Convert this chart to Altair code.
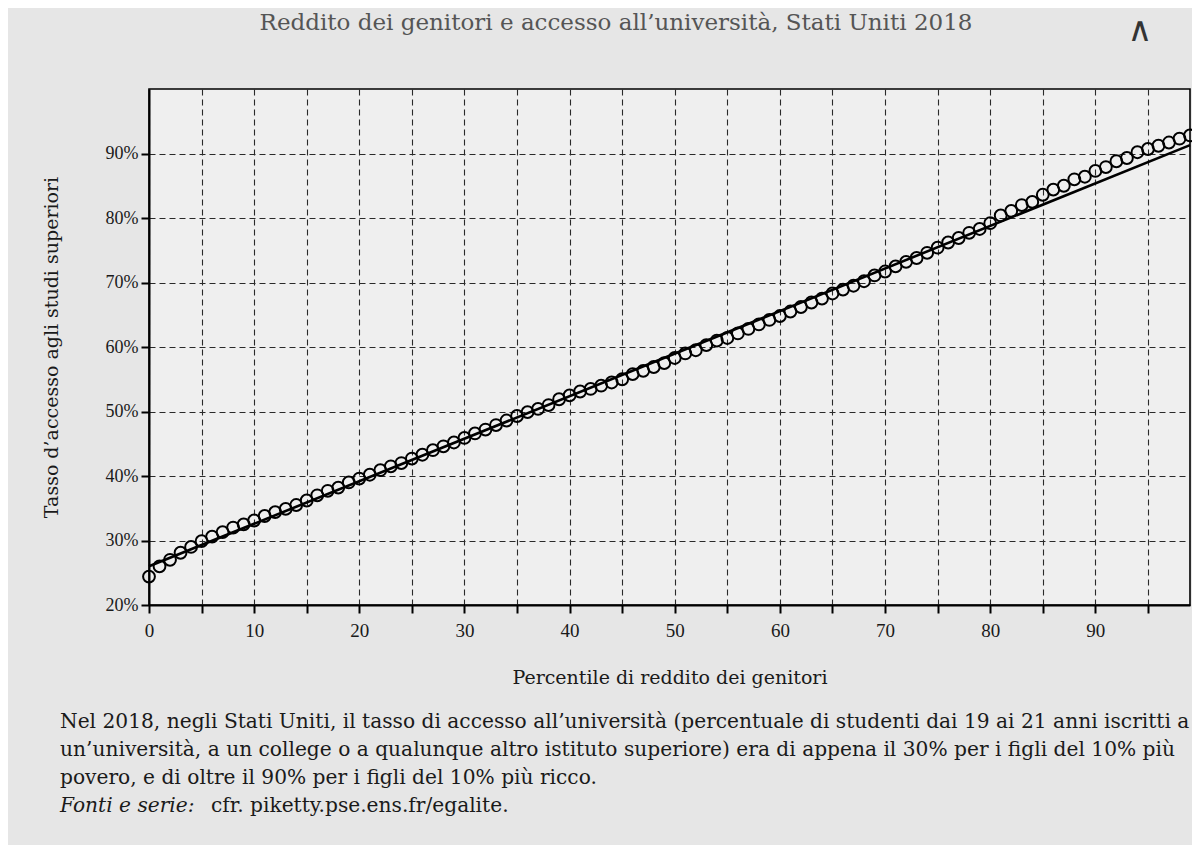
import altair as alt
import pandas as pd

# ---------------- data ----------------
percentile = list(range(0, 100))
access_rate = [
    24.4, 26.0, 27.0, 28.1, 29.0, 29.9, 30.6, 31.3, 32.0, 32.5,
    33.1, 33.8, 34.4, 34.9, 35.5, 36.2, 37.0, 37.7, 38.2, 39.0,
    39.6, 40.2, 40.9, 41.5, 42.0, 42.7, 43.3, 44.0, 44.6, 45.2,
    45.9, 46.6, 47.2, 47.9, 48.6, 49.3, 49.9, 50.4, 51.0, 51.9,
    52.5, 53.1, 53.5, 54.0, 54.5, 55.0, 55.8, 56.3, 56.9, 57.5,
    58.3, 59.0, 59.5, 60.3, 61.0, 61.4, 62.1, 62.8, 63.5, 64.2,
    64.8, 65.5, 66.2, 66.9, 67.5, 68.3, 68.9, 69.5, 70.2, 71.1,
    71.7, 72.5, 73.2, 73.8, 74.6, 75.4, 76.2, 76.9, 77.7, 78.3,
    79.2, 80.4, 81.1, 82.0, 82.5, 83.6, 84.4, 85.0, 86.0, 86.4,
    87.3, 87.9, 88.8, 89.3, 90.2, 90.7, 91.2, 91.7, 92.3, 92.8,
]
fit_x = [0, 99]
fit_y = [26.0, 91.3]

x_ticks = list(range(0, 100, 5))
y_ticks = list(range(20, 100, 10))

title_text = "Reddito dei genitori e accesso all’università, Stati Uniti 2018"
x_title = "Percentile di reddito dei genitori"
y_title = "Tasso d’accesso agli studi superiori"
caption_lines = [
    "Nel 2018, negli Stati Uniti, il tasso di accesso all’università (percentuale di studenti dai 19 ai 21 anni iscritti a",
    "un’università, a un college o a qualunque altro istituto superiore) era di appena il 30% per i figli del 10% più",
    "povero, e di oltre il 90% per i figli del 10% più ricco.",
]
source_label = "Fonti e serie:"
source_text = "cfr. piketty.pse.ens.fr/egalite."

FONT = "Liberation Serif"
WIDE = "DejaVu Serif"
INK = "#1a1a1a"

points_df = pd.DataFrame({"p": percentile, "rate": access_rate})
fit_df = pd.DataFrame({"p": fit_x, "rate": fit_y})

x_enc = alt.X(
    "p:Q",
    scale=alt.Scale(domain=[0, 99], nice=False, zero=False),
    axis=alt.Axis(
        values=x_ticks,
        labelExpr="datum.value % 10 == 0 ? datum.label : ''",
        grid=True, gridDash=[6, 4], gridColor="#2a2a2a", gridWidth=1.1,
        domainColor="black", domainWidth=2,
        tickColor="black", tickWidth=2, tickSize=8,
        labelFont=FONT, labelFontSize=19, labelColor=INK, labelPadding=8,
        labelFlush=False,
        title=x_title, titleFont=WIDE, titleFontSize=19, titleFontWeight="normal",
        titleColor=INK, titlePadding=28,
    ),
)
y_enc = alt.Y(
    "rate:Q",
    scale=alt.Scale(domain=[20, 100], nice=False, zero=False),
    axis=alt.Axis(
        values=y_ticks,
        labelExpr="datum.value + '%'",
        grid=True, gridDash=[6, 4], gridColor="#2a2a2a", gridWidth=1.1,
        domainColor="black", domainWidth=2,
        tickColor="black", tickWidth=2, tickSize=8,
        labelFont=FONT, labelFontSize=18, labelColor=INK, labelPadding=3,
        labelFlush=False,
        title=y_title, titleFont=WIDE, titleFontSize=19, titleFontWeight="normal",
        titleColor=INK, titlePadding=44,
    ),
)

fit_line = alt.Chart(fit_df).mark_line(color="black", strokeWidth=2.6).encode(x=x_enc, y=y_enc)
dots = alt.Chart(points_df).mark_point(
    shape="circle", filled=False, size=140, color="black", strokeWidth=2.0, opacity=1
).encode(x="p:Q", y="rate:Q")

layers = [fit_line, dots]

# chart title (drawn as text so it sits at a fixed spot above the frame)
layers.append(
    alt.Chart(pd.DataFrame({"t": [title_text]})).mark_text(
        font=WIDE, fontSize=23, color="#555555", align="center", baseline="alphabetic"
    ).encode(text="t:N", x=alt.value(467), y=alt.value(-59))
)

cap_y = [633, 661, 689]
for line, yy in zip(caption_lines, cap_y):
    layers.append(
        alt.Chart(pd.DataFrame({"t": [line]})).mark_text(
            font=WIDE, fontSize=20.2, color=INK, align="left", baseline="middle"
        ).encode(text="t:N", x=alt.value(-89), y=alt.value(yy))
    )
layers.append(
    alt.Chart(pd.DataFrame({"t": [source_label]})).mark_text(
        font=WIDE, fontSize=20.2, fontStyle="italic", color=INK, align="left", baseline="middle"
    ).encode(text="t:N", x=alt.value(-89), y=alt.value(717))
)
layers.append(
    alt.Chart(pd.DataFrame({"t": [source_text]})).mark_text(
        font=WIDE, fontSize=20.2, color=INK, align="left", baseline="middle"
    ).encode(text="t:N", x=alt.value(62), y=alt.value(717))
)
layers.append(
    alt.Chart(pd.DataFrame({"t": ["∧"]})).mark_text(
        font="DejaVu Sans", fontSize=34, color="#333333", align="center", baseline="middle"
    ).encode(text="t:N", x=alt.value(991), y=alt.value(-58))
)

chart = alt.layer(*layers).properties(
    width=1041,
    height=516,
    autosize=alt.AutoSizeParams(type="none"),
    padding={"left": 141, "top": 81, "right": 2, "bottom": 240},
    background="#e6e6e6",
).configure_view(
    stroke="black", strokeWidth=1.6, fill="#efefef"
)

chart.save("out.html", embed_options={"renderer": "svg", "actions": False})
